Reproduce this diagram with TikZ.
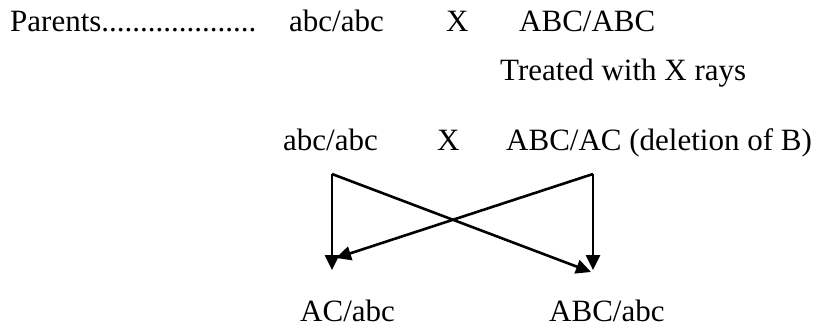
\documentclass[tikz,border=0pt]{standalone}
\usepackage{fontspec}
\setmainfont{Liberation Serif}
\usepackage{tikz}
\usetikzlibrary{arrows.meta, positioning, calc}
\tikzset{
    label_text/.style={anchor=base west, inner sep=0pt, font=\fontsize{31}{36}\selectfont},
    arrow/.style={-{Triangle[length=15pt, width=14pt]}, line width=2.6pt}
}
\begin{document}
\begin{tikzpicture}[x=1pt, y=-1pt]
            \useasboundingbox (0,0) rectangle (825,329);

            % First cross (parents)
            \node (parents) [label_text] at (10, 32) {Parents....................};
            \node (p_recessive) [label_text] at (289, 32) {abc/abc};
            \node (p_cross) [label_text] at (446, 32) {X};
            \node (p_dominant) [label_text] at (519, 32) {ABC/ABC};

            % Treatment
            \node (treated) [label_text] at (500, 81) {Treated with X rays};

            % Second cross (after deletion)
            \node (recessive) [label_text] at (283, 150) {abc/abc};
            \node (cross) [label_text] at (437, 150) {X};
            \node (deleted) [label_text] at (506, 150) {ABC/AC (deletion of B)};

            % Offspring
            \node (child_del) [label_text] at (300, 321) {AC/abc};
            \node (child_full) [label_text] at (549, 321) {ABC/abc};

            % Corners and tips of the crossing arrows
            \coordinate (corner_left) at (332, 174);
            \coordinate (corner_right) at (593, 174);
            \coordinate (tip_left) at (332, 270);
            \coordinate (tip_right) at (593, 270);
            \coordinate (tip_diag_left) at (336, 258);
            \coordinate (tip_diag_right) at (591, 272);

            % Connections
            \draw [arrow] (corner_left) -- (tip_left);
            \draw [arrow] (corner_right) -- (tip_right);
            \draw [arrow] (corner_left) -- (tip_diag_right);
            \draw [arrow] (corner_right) -- (tip_diag_left);
\end{tikzpicture}
\end{document}
